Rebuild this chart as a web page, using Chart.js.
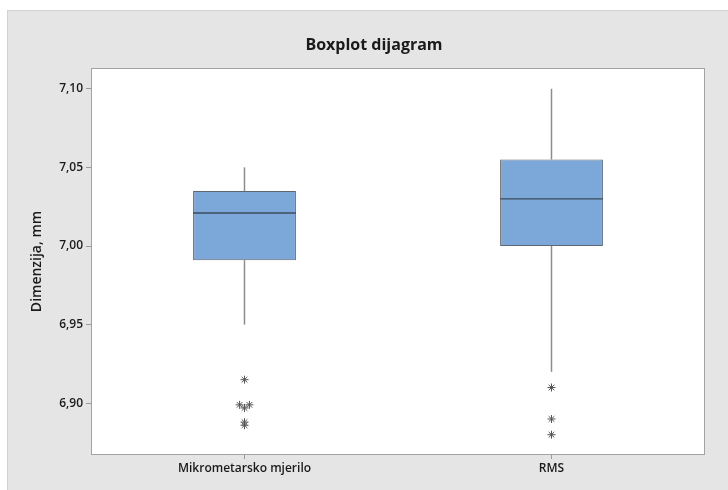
<!DOCTYPE html>
<html>
<head>
<meta charset="utf-8">
<script src="https://cdn.jsdelivr.net/npm/chart.js@4/dist/chart.umd.min.js"></script>
<style>
html,body{margin:0;padding:0;background:#fff;}
#wrap{width:728px;height:490px;position:relative;}
</style>
</head>
<body>
<div id="wrap"><canvas id="c" width="728" height="490"></canvas></div>
<script>
// ---- data ----
const categories = ["Mikrometarsko mjerilo", "RMS"];
const whiskerLow = [6.950, 6.920];
const q1 = [6.991, 7.000];
const median = [7.021, 7.030];
const q3 = [7.035, 7.055];
const whiskerHigh = [7.050, 7.100];
const outliersMikro = [6.915, 6.899, 6.899, 6.897, 6.888, 6.886];
const outliersMikroJitter = [0, -0.016, 0.016, 0, 0, 0];
const outliersRMS = [6.910, 6.890, 6.880];
const outliersRMSJitter = [0, 0, 0];
const yTicks = [6.90, 6.95, 7.00, 7.05, 7.10];
const chartTitle = "Boxplot dijagram";
const yTitle = "Dimenzija, mm";

// ---- style ----
const BOX_W = 0.335;
const FONT = "'Open Sans', 'Noto Sans', sans-serif";

const whiskerSets = [];
categories.forEach((c, i) => {
  whiskerSets.push([{x: i, y: whiskerLow[i]}, {x: i, y: q1[i]}]);
  whiskerSets.push([{x: i, y: q3[i]}, {x: i, y: whiskerHigh[i]}]);
});
const medianSets = categories.map((c, i) => [{x: i - BOX_W / 2, y: median[i]}, {x: i + BOX_W / 2, y: median[i]}]);

const datasets = [];
whiskerSets.forEach(d => datasets.push({
  type: 'line', data: d, borderColor: '#8c8c8c', borderWidth: 1.5,
  pointRadius: 0, fill: false, order: 3
}));
datasets.push({
  type: 'bar',
  data: categories.map((c, i) => ({x: i, y: [q1[i], q3[i]]})),
  backgroundColor: '#7ba7d9', borderColor: '#5f6670', borderWidth: 1, borderSkipped: false,
  barPercentage: BOX_W, categoryPercentage: 1, order: 2
});
medianSets.forEach(d => datasets.push({
  type: 'line', data: d, borderColor: '#3e4d5c', borderWidth: 1.3,
  pointRadius: 0, fill: false, order: 1
}));
datasets.push({
  type: 'scatter',
  data: outliersMikro.map((v, k) => ({x: 0 + outliersMikroJitter[k], y: v}))
    .concat(outliersRMS.map((v, k) => ({x: 1 + outliersRMSJitter[k], y: v}))),
  pointStyle: 'star', pointRadius: 4, borderColor: '#555', borderWidth: 1,
  backgroundColor: '#555', order: 0
});

const bgPlugin = {
  id: 'bg',
  beforeDraw(chart) {
    const ctx = chart.ctx, a = chart.chartArea;
    ctx.save();
    ctx.fillStyle = '#ffffff';
    ctx.fillRect(0, 0, chart.width, chart.height);
    ctx.fillStyle = '#e5e5e5';
    ctx.fillRect(7, 10, chart.width - 7, chart.height - 10);
    ctx.strokeStyle = '#d2d2d2';
    ctx.lineWidth = 1;
    ctx.strokeRect(7.5, 10.5, chart.width, chart.height);
    ctx.fillStyle = '#ffffff';
    ctx.fillRect(a.left, a.top, a.right - a.left, a.bottom - a.top);
    ctx.font = "bold 16px " + FONT;
    ctx.fillStyle = '#1a1a1a';
    ctx.textAlign = 'center';
    ctx.textBaseline = 'middle';
    ctx.fillText(chartTitle, 374, 45);
    ctx.restore();
  },
  beforeDatasetsDraw(chart) {
    const ctx = chart.ctx, a = chart.chartArea;
    ctx.save();
    ctx.strokeStyle = '#a3a3a3';
    ctx.lineWidth = 1;
    ctx.strokeRect(Math.round(a.left) + 0.5, Math.round(a.top) + 0.5,
      Math.round(a.right - a.left) - 1, Math.round(a.bottom - a.top) - 1);
    ctx.restore();
  }
};

new Chart(document.getElementById('c'), {
  data: {datasets},
  plugins: [bgPlugin],
  options: {
    responsive: false,
    animation: false,
    layout: {padding: {top: 68, right: 23, left: 0, bottom: 0}},
    plugins: {legend: {display: false}, tooltip: {enabled: false}, title: {display: false}},
    scales: {
      x: {
        type: 'linear', min: -0.5, max: 1.5, offset: false,
        afterBuildTicks: s => { s.ticks = categories.map((c, i) => ({value: i})); },
        afterFit: s => { s.height = 35; },
        ticks: {
          callback: v => categories[v] !== undefined ? categories[v] : '',
          color: '#1a1a1a', font: {family: FONT, size: 12, weight: '600'}, padding: 2,
          maxRotation: 0, autoSkip: false
        },
        grid: {drawOnChartArea: false, drawTicks: true, tickLength: 4, color: '#9a9a9a', offset: false},
        border: {display: false}
      },
      y: {
        type: 'linear', min: 6.8671, max: 7.1132,
        afterBuildTicks: s => { s.ticks = yTicks.map(v => ({value: v})); },
        afterFit: s => { s.width = 91; },
        ticks: {
          callback: v => v.toFixed(2).replace('.', ','),
          color: '#1a1a1a', font: {family: FONT, size: 12, weight: '600'}, padding: 3
        },
        grid: {drawOnChartArea: false, drawTicks: true, tickLength: 5, color: '#9a9a9a'},
        border: {display: false},
        title: {
          display: true, text: yTitle, color: '#1a1a1a',
          font: {family: FONT, size: 14, weight: '600'}, padding: {top: 29, bottom: 0}
        }
      }
    }
  }
});
</script>
</body>
</html>
